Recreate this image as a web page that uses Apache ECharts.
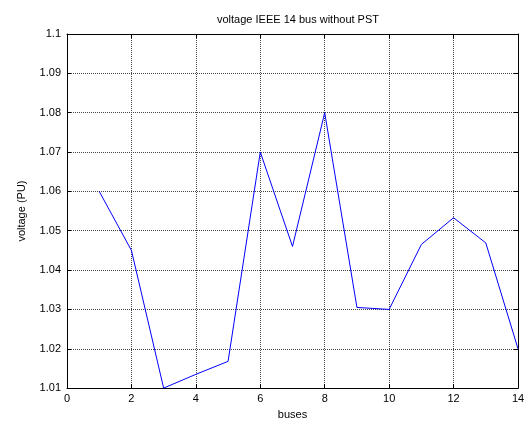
<!DOCTYPE html>
<html>
<head>
<meta charset="utf-8">
<script src="https://cdn.jsdelivr.net/npm/echarts@6/dist/echarts.min.js"></script>
<style>
  html, body { margin: 0; padding: 0; background: #fff; }
  #chart { width: 530px; height: 425px; }
</style>
</head>
<body>
<div id="chart"></div>
<script>
  // bus number vs voltage (PU)
  var buses = [1, 2, 3, 4, 5, 6, 7, 8, 9, 10, 11, 12, 13, 14];
  var voltage = [1.06, 1.045, 1.01, 1.0135, 1.0168, 1.07, 1.046, 1.08, 1.0305, 1.030, 1.0465, 1.0533, 1.0469, 1.02];
  var xTicks = [0, 2, 4, 6, 8, 10, 12, 14];
  var yTicks = [1.01, 1.02, 1.03, 1.04, 1.05, 1.06, 1.07, 1.08, 1.09, 1.1];

  var chart = echarts.init(document.getElementById('chart'));
  var font = 'Liberation Sans, Arial, sans-serif';
  var gridLine = { show: true, lineStyle: { color: '#444', type: [1, 1], width: 1 } };
  var boxLine = { show: true, onZero: false, lineStyle: { color: '#000', width: 1 } };

  var pts = [];
  for (var i = 0; i < buses.length; i++) {
    pts.push([buses[i], voltage[i]]);
  }

  var option = {
    animation: false,
    backgroundColor: '#fff',
    title: {
      text: 'voltage IEEE 14 bus without PST',
      left: 293,
      top: 9,
      textAlign: 'center',
      textStyle: { fontFamily: font, fontSize: 11, fontWeight: 'normal', color: '#000' }
    },
    grid: { left: 67, right: 12, top: 34, bottom: 36 },
    xAxis: [{
      type: 'value',
      min: xTicks[0],
      max: xTicks[xTicks.length - 1],
      interval: 2,
      name: 'buses',
      nameLocation: 'middle',
      nameGap: 18,
      nameTextStyle: { fontFamily: font, fontSize: 11, color: '#000' },
      axisLine: boxLine,
      axisTick: { show: true, inside: true, length: 4, lineStyle: { color: '#000' } },
      axisLabel: { fontFamily: font, fontSize: 11, color: '#000', margin: 5 },
      splitLine: gridLine
    }, {
      type: 'value',
      position: 'top',
      min: xTicks[0],
      max: xTicks[xTicks.length - 1],
      interval: 2,
      axisLine: boxLine,
      axisTick: { show: true, inside: true, length: 4, lineStyle: { color: '#000' } },
      axisLabel: { show: false },
      splitLine: { show: false }
    }],
    yAxis: [{
      type: 'value',
      min: yTicks[0],
      max: yTicks[yTicks.length - 1],
      interval: 0.01,
      name: 'voltage (PU)',
      nameLocation: 'middle',
      nameGap: 40,
      nameTextStyle: { fontFamily: font, fontSize: 11, color: '#000' },
      axisLine: boxLine,
      axisTick: { show: true, inside: true, length: 4, lineStyle: { color: '#000' } },
      axisLabel: {
        fontFamily: font, fontSize: 11, color: '#000', margin: 6,
        formatter: function (v) { return parseFloat(v.toFixed(2)).toString(); }
      },
      splitLine: gridLine
    }, {
      type: 'value',
      position: 'right',
      min: yTicks[0],
      max: yTicks[yTicks.length - 1],
      interval: 0.01,
      axisLine: boxLine,
      axisTick: { show: true, inside: true, length: 4, lineStyle: { color: '#000' } },
      axisLabel: { show: false },
      splitLine: { show: false }
    }],
    series: [{
      type: 'line',
      data: pts,
      showSymbol: false,
      symbol: 'none',
      lineStyle: { color: '#0000ff', width: 1 },
      itemStyle: { color: '#0000ff' }
    }]
  };

  chart.setOption(option);
</script>
</body>
</html>
